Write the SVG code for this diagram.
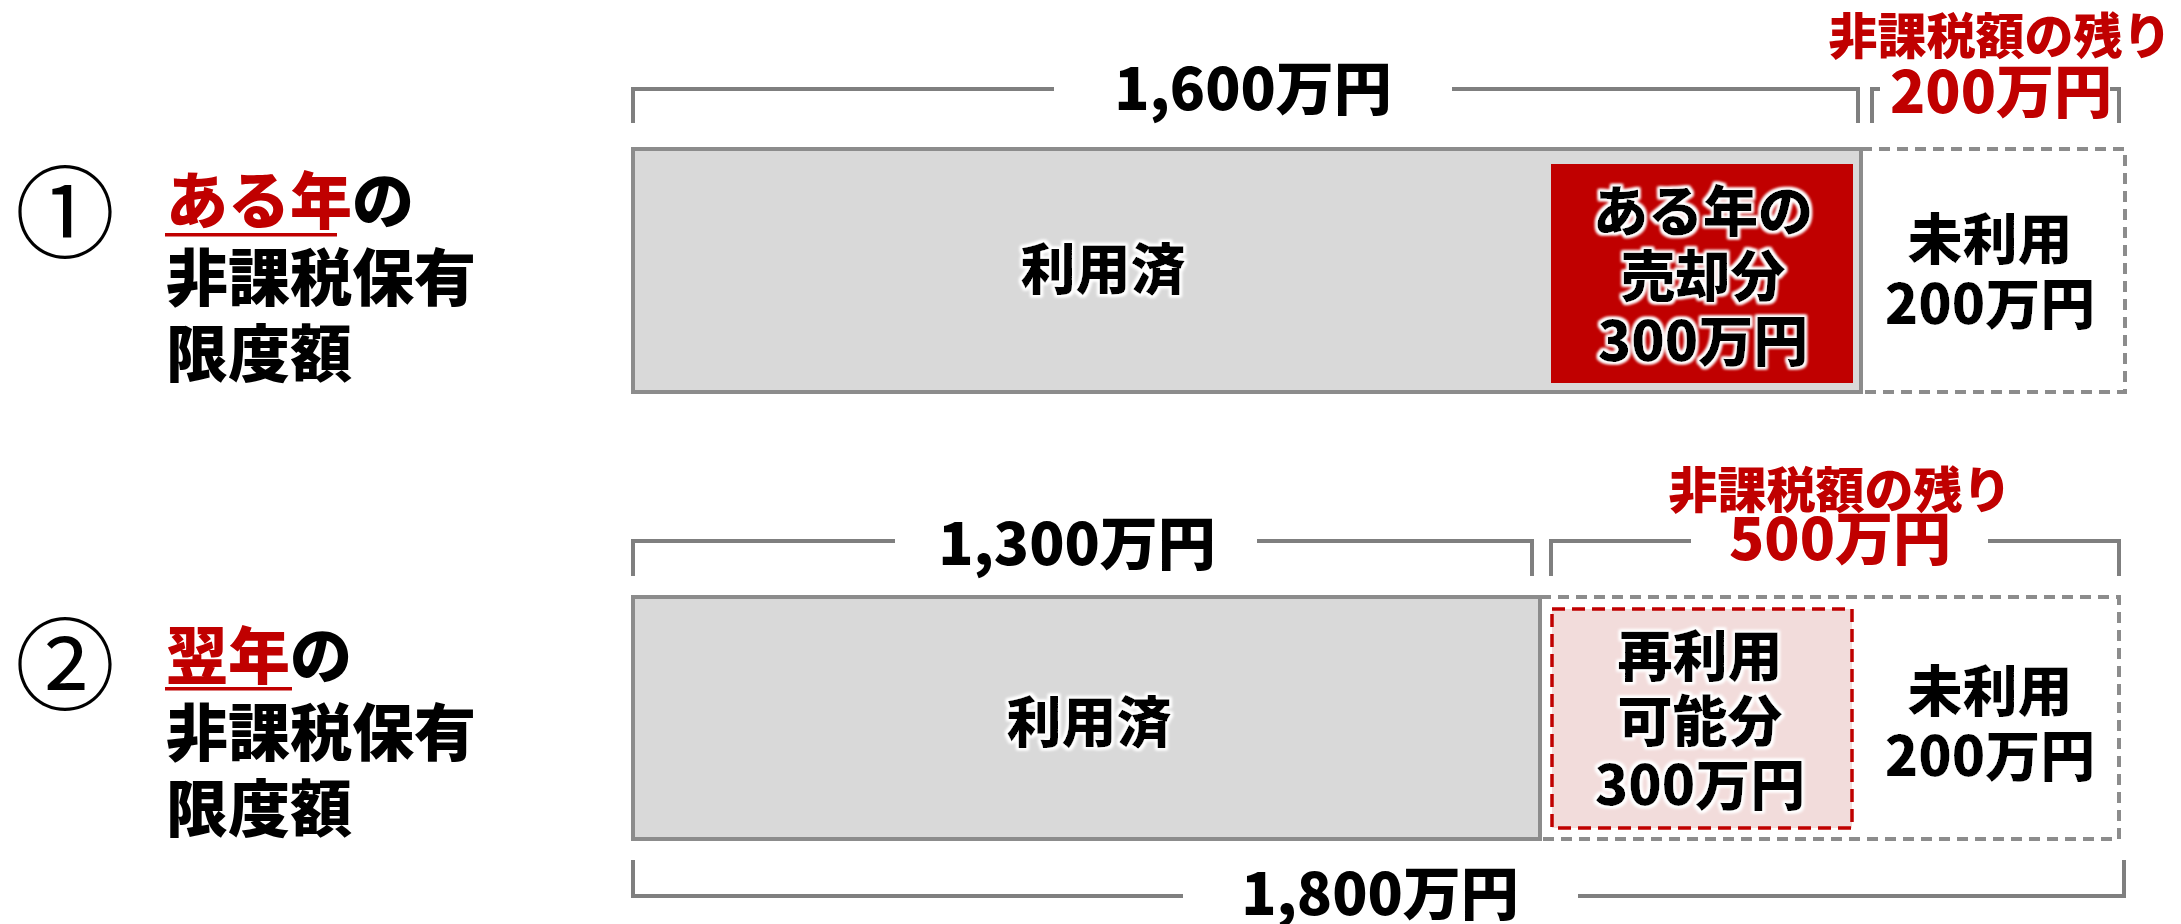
<svg xmlns="http://www.w3.org/2000/svg" width="2181" height="924" viewBox="0 0 2181 924">
<style>
text{font-family:"Noto Sans CJK JP","Noto Sans CJK SC",sans-serif;font-weight:900;}
.lbl{font-size:58px;fill:#000;text-anchor:middle;}
.red{fill:#c00000;}
.rl{font-size:49px;fill:#c00000;text-anchor:middle;}
.box{font-size:55px;fill:#000;text-anchor:middle;filter:url(#glow);}
.side{font-size:62px;fill:#000;}
.circ{font-size:100px;font-weight:400;fill:#000;text-anchor:middle;}
.br{fill:none;stroke:#7f7f7f;stroke-width:4;}
.used{fill:#d9d9d9;stroke:#8c8c8c;stroke-width:4;}
.dash{fill:none;stroke:#8c8c8c;stroke-width:4;stroke-dasharray:11 7;}
</style>
<defs>
<filter id="glow" x="-10%" y="-20%" width="120%" height="140%">
<feMorphology in="SourceAlpha" operator="dilate" radius="2" result="d"/>
<feGaussianBlur in="d" stdDeviation="1.5" result="b"/>
<feFlood flood-color="#ffffff"/>
<feComposite in2="b" operator="in" result="g"/>
<feMerge><feMergeNode in="g"/><feMergeNode in="g"/><feMergeNode in="SourceGraphic"/></feMerge>
</filter>
</defs>
<rect width="2181" height="924" fill="#fff"/>

<g id="connectors">
<path class="br" d="M633,123 V89 H1054 M1452,89 H1858 V123"/>
<path class="br" d="M1872,123 V89 H1880 M2110,89 H2119 V123"/>
<path class="br" d="M633,576 V541 H895 M1257,541 H1532 V576"/>
<path class="br" d="M1551,576 V541 H1691 M1988,541 H2119 V576"/>
<path class="br" d="M633,860 V896 H1183 M1578,896 H2124 V860"/>
</g>

<g id="label-1600"><text class="lbl" x="1253" y="110">1,600万円</text></g>
<g id="label-remain1">
<text class="rl" x="2000" y="54">非課税額の残り</text>
<text class="lbl red" x="2001" y="113">200万円</text>
</g>
<g id="label-1300"><text class="lbl" x="1077" y="565">1,300万円</text></g>
<g id="label-remain2">
<text class="rl" x="1840" y="508">非課税額の残り</text>
<text class="lbl red" x="1840" y="560">500万円</text>
</g>
<g id="label-1800"><text class="lbl" x="1380" y="915">1,800万円</text></g>

<g id="title1">
<text class="circ" x="65" y="250">①</text>
<text class="side" x="166" y="224"><tspan class="red">ある年</tspan>の</text>
<rect x="165" y="233" width="172" height="3.5" fill="#c00000"/>
<text class="side" x="166" y="301">非課税保有</text>
<text class="side" x="166" y="377">限度額</text>
</g>
<g id="unused1">
<rect class="dash" x="1861" y="149" width="264" height="243"/>
<text class="box" x="1990" y="259">未利用</text>
<text class="box" x="1990" y="324">200万円</text>
</g>
<g id="used1">
<rect class="used" x="633" y="149" width="1228" height="243"/>
<text class="box" x="1103" y="289">利用済</text>
</g>
<g id="sold1">
<rect x="1551" y="164" width="302" height="219" fill="#c00000"/>
<text class="box" x="1703" y="231">ある年の</text>
<text class="box" x="1703" y="296">売却分</text>
<text class="box" x="1703" y="361">300万円</text>
</g>

<g id="title2">
<text class="circ" x="65" y="702">②</text>
<text class="side" x="166" y="679"><tspan class="red">翌年</tspan>の</text>
<rect x="165" y="687" width="127" height="3.5" fill="#c00000"/>
<text class="side" x="166" y="756">非課税保有</text>
<text class="side" x="166" y="832">限度額</text>
</g>
<g id="unused2">
<rect class="dash" x="1540" y="597" width="579" height="242"/>
<text class="box" x="1990" y="711">未利用</text>
<text class="box" x="1990" y="776">200万円</text>
</g>
<g id="used2">
<rect class="used" x="633" y="597" width="907" height="242"/>
<text class="box" x="1089" y="742">利用済</text>
</g>
<g id="reuse2">
<rect x="1552" y="609" width="300" height="219" fill="#f2dcdb" stroke="#c00000" stroke-width="3.5" stroke-dasharray="13 7"/>
<text class="box" x="1700" y="676">再利用</text>
<text class="box" x="1700" y="741">可能分</text>
<text class="box" x="1700" y="805">300万円</text>
</g>
</svg>
